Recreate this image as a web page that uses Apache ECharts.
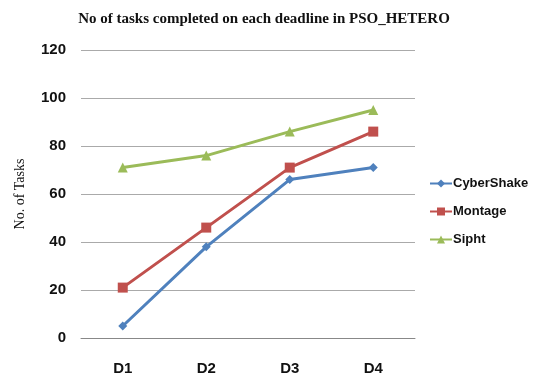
<!DOCTYPE html>
<html><head><meta charset="utf-8">
<script src="https://cdn.jsdelivr.net/npm/echarts@6/dist/echarts.min.js"></script>
<style>html,body{margin:0;padding:0;background:#fff}#c{width:534px;height:376px}</style>
</head><body><div id="c"></div>
<script>
const categories = ['D1', 'D2', 'D3', 'D4'];
const cyberShake = [5, 38, 66, 71];
const montage = [21, 46, 71, 86];
const sipht = [71, 76, 86, 95];
const seriesNames = ['CyberShake', 'Montage', 'Sipht'];

const chart = echarts.init(document.getElementById('c'));
const mk = (name, data, color, symbol, size) => ({
  name, type: 'line', data, symbol, symbolSize: size,
  lineStyle: { color, width: 3 }, itemStyle: { color }
});
chart.setOption({
  animation: false,
  title: {
    text: 'No of tasks completed on each deadline in PSO_HETERO',
    left: 259, textAlign: 'center', top: 7,
    textStyle: { fontFamily: 'Liberation Serif', fontWeight: 'bold', fontSize: 15, color: '#111' }
  },
  grid: { left: 81, right: 119, top: 50, bottom: 38 },
  legend: {
    orient: 'vertical', left: 424, top: 172, itemGap: 15, itemWidth: 22, itemHeight: 10,
    textStyle: { fontFamily: 'Liberation Sans', fontWeight: 'bold', fontSize: 13, color: '#111', padding: [0,0,0,-4] },
    data: seriesNames
  },
  xAxis: {
    type: 'category', data: categories, boundaryGap: true,
    axisLine: { lineStyle: { color: '#888' } }, axisTick: { show: false },
    axisLabel: { margin: 23, fontFamily: 'Liberation Sans', fontWeight: 'bold', fontSize: 15, color: '#111' }
  },
  yAxis: {
    type: 'value', min: 0, max: 120, interval: 20,
    name: 'No. of Tasks', nameLocation: 'middle', nameGap: 54,
    nameTextStyle: { fontFamily: 'Liberation Serif', fontSize: 14, color: '#111' },
    axisLine: { show: false }, axisTick: { show: false },
    axisLabel: { margin: 15, fontFamily: 'Liberation Sans', fontWeight: 'bold', fontSize: 15, color: '#111' },
    splitLine: { lineStyle: { color: '#aaa' } }
  },
  series: [
    mk(seriesNames[0], cyberShake, '#4F81BD', 'diamond', 9),
    mk(seriesNames[1], montage, '#C0504D', 'rect', 10),
    mk(seriesNames[2], sipht, '#9BBB59', 'triangle', 10)
  ]
});
</script></body></html>
